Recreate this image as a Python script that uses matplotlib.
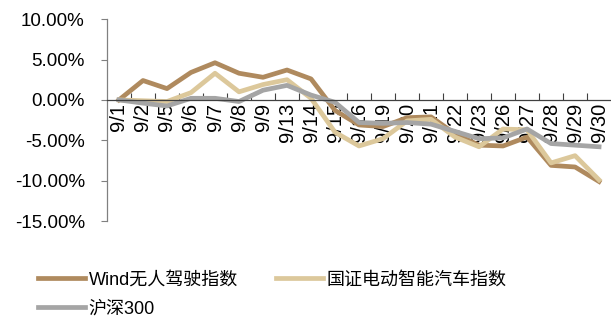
import numpy as np
import matplotlib
matplotlib.use('Agg')
import matplotlib.pyplot as plt

plt.rcParams['font.family'] = ['Liberation Sans', 'Noto Sans CJK SC', 'DejaVu Sans']

# data (percent)
dates = ['9/1', '9/2', '9/5', '9/6', '9/7', '9/8', '9/9', '9/13', '9/14', '9/15',
         '9/16', '9/19', '9/20', '9/21', '9/22', '9/23', '9/26', '9/27', '9/28',
         '9/29', '9/30']
wind = [0, 2.4, 1.4, 3.4, 4.6, 3.3, 2.8, 3.7, 2.6, -1.3, -3.1, -3.3, -2.2, -2.1,
        -4.2, -5.6, -5.7, -4.6, -8.1, -8.3, -10.1]
guozheng = [0, -0.1, -0.2, 0.9, 3.3, 1.0, 1.9, 2.5, 0.2, -4.0, -5.7, -4.8, -2.6,
            -2.4, -4.6, -5.8, -3.6, -3.7, -7.8, -6.9, -9.9]
hs300 = [0, -0.4, -0.75, 0.2, 0.2, -0.2, 1.2, 1.8, 0.6, -0.3, -2.8, -2.9, -2.8,
         -3.0, -3.9, -4.8, -4.7, -3.6, -5.4, -5.6, -5.8]
labels = ['Wind无人驾驶指数', '国证电动智能汽车指数', '沪深300']
colors = ['#AF8A5E', '#DCC89B', '#A5A5A5']
yticks = [10, 5, 0, -5, -10, -15]

fig = plt.figure(figsize=(6.11, 3.2), dpi=100)
ax = fig.add_axes([0.1751, 0.309, 0.825, 0.6313])

x = np.arange(len(dates))
lines = []
for s, lab, c in zip([wind, guozheng, hs300], labels, colors):
    ln, = ax.plot(x, s, color=c, lw=3.4, label=lab)
    lines.append(ln)

ax.set_xlim(-0.5, len(dates) - 0.5)
ax.set_ylim(-15, 10)

for sp in ['top', 'right']:
    ax.spines[sp].set_visible(False)
ax.spines['bottom'].set_position(('data', 0))
ax.spines['bottom'].set_color('#404040')
ax.spines['left'].set_color('#808080')
ax.spines['bottom'].set_linewidth(0.9)
ax.spines['left'].set_linewidth(0.9)

# ticks at category boundaries, labels at centers
ax.set_xticks(np.arange(0.5, len(dates) - 0.5, 1))
ax.set_xticklabels([])
ax.tick_params(axis='x', which='major', direction='in', length=5, color='#404040')
ax.set_xticks(x, minor=True)
ax.set_xticklabels(dates, minor=True, rotation=90, fontsize=14.5)
ax.tick_params(axis='x', which='minor', length=0, pad=2)

ax.set_yticks(yticks)
ax.set_yticklabels(['%.2f%%' % v for v in yticks], fontsize=13.5)
ax.tick_params(axis='y', direction='out', length=4, color='#808080', pad=12)

# legend fills column-first, so reorder to get row-wise layout
order = [0, 2, 1]
fig.legend([lines[i] for i in order], [labels[i] for i in order],
           loc='upper left', bbox_to_anchor=(0.062, 0.152), ncol=2, frameon=False,
           fontsize=13, handlelength=2.6, handletextpad=0.2, columnspacing=2.1,
           labelspacing=0.65, borderpad=0, borderaxespad=0)

fig.savefig('out.png', dpi=100)
